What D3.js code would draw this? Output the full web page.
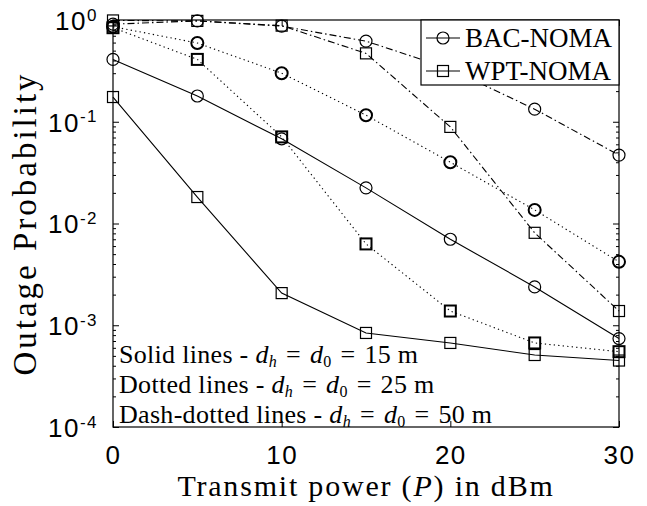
<!DOCTYPE html>
<html>
<head>
<meta charset="utf-8">
<script src="https://cdn.jsdelivr.net/npm/d3@7"></script>
<style>
  body { margin: 0; background: #fff; }
  .tick text { font-family: "Liberation Sans", Arial, sans-serif; }
  .serif { font-family: "Liberation Serif", "Times New Roman", serif; }
</style>
</head>
<body>
<script>
//transmit power values (dBm)
var power = [0, 5, 10, 15, 20, 25, 30];

//outage probability
var bacSolid  = [0.41, 0.179, 0.068, 0.0224, 0.0070, 0.00238, 0.00074];
var wptSolid  = [0.175, 0.0182, 0.00207, 0.00084, 0.00067, 0.00051, 0.00045];
var bacDotted = [0.86, 0.594, 0.30, 0.116, 0.040, 0.0136, 0.0042];
var wptDotted = [0.84, 0.41, 0.071, 0.0063, 0.00138, 0.00067, 0.00055];
var bacDashDot = [0.91, 0.98, 0.87, 0.62, 0.33, 0.133, 0.047];
var wptDashDot = [0.99, 0.98, 0.88, 0.47, 0.089, 0.0081, 0.00138];

var xTicks = [0, 10, 20, 30];
var yDecades = [0, -1, -2, -3, -4];
var legendNames = ["BAC-NOMA", "WPT-NOMA"];
var notes = [
    ["Solid lines - ", "15 m"],
    ["Dotted lines - ", "25 m"],
    ["Dash-dotted lines - ", "50 m"]
];

var series = [
    {vals: bacSolid, marker: "circle", dash: null},
    {vals: wptSolid, marker: "square", dash: null},
    {vals: bacDotted, marker: "circle", dash: "1.3,3.2"},
    {vals: wptDotted, marker: "square", dash: "1.3,3.2"},
    {vals: bacDashDot, marker: "circle", dash: "7,3,1.5,3"},
    {vals: wptDashDot, marker: "square", dash: "7,3,1.5,3"}
];

window.onload = drawChart();

function drawChart(){

    var width = 647,
        height = 506,
        margin = {left: 113, top: 20, right: 28, bottom: 79},
        innerW = width - margin.left - margin.right,
        innerH = height - margin.top - margin.bottom;

    var svg = d3.select("body")
        .append("svg")
        .attr("width", width)
        .attr("height", height);

    var g = svg.append("g")
        .attr("transform", "translate(" + margin.left + "," + margin.top + ")");

    var x = d3.scaleLinear().domain([0, 30]).range([0, innerW]);
    var y = d3.scaleLog().domain([1e-4, 1]).range([innerH, 0]);

    //all log ticks, majors get labels
    var yTicks = [];
    yDecades.forEach(function(e){
        if (e > -4) {
            for (var m = 1; m < 10; m++) yTicks.push(m * Math.pow(10, e - 1));
        }
    });
    yTicks.push(1);
    var isMajor = function(v){ return Math.abs(Math.log10(v) - Math.round(Math.log10(v))) < 1e-9; };

    //left axis
    var yAxis = g.append("g")
        .call(d3.axisLeft(y).tickValues(yTicks).tickSizeOuter(0).tickFormat(""));
    yAxis.selectAll(".tick line")
        .attr("x2", function(d){ return isMajor(d) ? 6 : 3; });
    yAxis.select(".domain").remove();
    yAxis.selectAll(".tick").filter(isMajor).each(function(d){
        var e = Math.round(Math.log10(d));
        var t = d3.select(this).select("text")
            .attr("x", -15).attr("dy", "0.36em")
            .style("font-size", "26px").style("letter-spacing", "1.5px").attr("fill", "#000");
        t.append("tspan").text("10");
        t.append("tspan").attr("dy", "-0.55em").style("font-size", "17px").text(e);
    });

    //right axis (ticks only)
    var yAxisR = g.append("g")
        .attr("transform", "translate(" + innerW + ",0)")
        .call(d3.axisRight(y).tickValues(yTicks).tickFormat(""));
    yAxisR.selectAll(".tick line")
        .attr("x2", function(d){ return isMajor(d) ? -6 : -3; });
    yAxisR.select(".domain").remove();

    //bottom axis
    var xAxis = g.append("g")
        .attr("transform", "translate(0," + innerH + ")")
        .call(d3.axisBottom(x).tickValues(xTicks).tickFormat(d3.format("d")));
    xAxis.selectAll(".tick line").attr("y2", -6);
    xAxis.select(".domain").remove();
    xAxis.selectAll(".tick text")
        .attr("y", 19).attr("dy", "0.71em")
        .style("font-size", "26px").style("letter-spacing", "1.5px").attr("fill", "#000");

    //top axis ticks
    var xAxisT = g.append("g")
        .call(d3.axisTop(x).tickValues(xTicks).tickFormat(""));
    xAxisT.selectAll(".tick line").attr("y2", 6);
    xAxisT.select(".domain").remove();

    //frame
    g.append("rect")
        .attr("width", innerW).attr("height", innerH)
        .attr("fill", "none").attr("stroke", "#000").attr("stroke-width", 1.2);

    //lines and markers
    var line = d3.line()
        .x(function(d, i){ return x(power[i]); })
        .y(function(d){ return y(d); });

    series.forEach(function(s){
        g.append("path")
            .datum(s.vals)
            .attr("d", line)
            .attr("fill", "none")
            .attr("stroke", "#000")
            .attr("stroke-width", 1.1)
            .attr("stroke-dasharray", s.dash);

        var sw = s.dash === "1.3,3.2" ? 2 : 1.2;
        if (s.marker === "circle") {
            g.selectAll(null).data(s.vals).enter().append("circle")
                .attr("cx", function(d, i){ return x(power[i]); })
                .attr("cy", function(d){ return y(d); })
                .attr("r", 6)
                .attr("fill", "none").attr("stroke", "#000").attr("stroke-width", sw);
        } else {
            g.selectAll(null).data(s.vals).enter().append("rect")
                .attr("x", function(d, i){ return x(power[i]) - 5.5; })
                .attr("y", function(d){ return y(d) - 5.5; })
                .attr("width", 11).attr("height", 11)
                .attr("fill", "none").attr("stroke", "#000").attr("stroke-width", sw);
        }
    });

    //legend
    var lg = g.append("g").attr("transform", "translate(" + (innerW - 198) + ",0)");
    lg.append("rect")
        .attr("width", 198).attr("height", 65)
        .attr("fill", "#fff").attr("stroke", "#000").attr("stroke-width", 1.2);
    legendNames.forEach(function(name, i){
        var cy = 18 + i * 33;
        lg.append("line")
            .attr("x1", 5).attr("x2", 39).attr("y1", cy).attr("y2", cy)
            .attr("stroke", "#000").attr("stroke-width", 1.1);
        if (i === 0) {
            lg.append("circle").attr("cx", 22).attr("cy", cy).attr("r", 6)
                .attr("fill", "none").attr("stroke", "#000").attr("stroke-width", 1.2);
        } else {
            lg.append("rect").attr("x", 16.5).attr("y", cy - 5.5).attr("width", 11).attr("height", 11)
                .attr("fill", "none").attr("stroke", "#000").attr("stroke-width", 1.2);
        }
        lg.append("text")
            .attr("class", "serif")
            .attr("x", 44).attr("y", cy).attr("dy", "0.35em")
            .style("font-size", "27px")
            .text(name);
    });

    //annotation lines
    var eq = "\u2004=\u2004";
    notes.forEach(function(n, i){
        var t = g.append("text")
            .attr("class", "serif")
            .attr("x", 6).attr("y", 343 + i * 30)
            .style("font-size", "26px")
            .style("letter-spacing", "0.3px");
        t.append("tspan").text(n[0]);
        t.append("tspan").style("font-style", "italic").text("d");
        t.append("tspan").attr("dy", 4).style("font-size", "16px").style("font-style", "italic").text("h");
        t.append("tspan").attr("dy", -4).text(eq);
        t.append("tspan").style("font-style", "italic").text("d");
        t.append("tspan").attr("dy", 4).style("font-size", "16px").text("0");
        t.append("tspan").attr("dy", -4).text(eq + n[1]);
    });

    //axis titles
    var xt = svg.append("text")
        .attr("class", "serif")
        .attr("x", margin.left + innerW / 2).attr("y", 496)
        .attr("text-anchor", "middle")
        .style("font-size", "30px")
        .style("letter-spacing", "1.8px");
    xt.append("tspan").text("Transmit power (");
    xt.append("tspan").style("font-style", "italic").text("P");
    xt.append("tspan").text(") in dBm");

    svg.append("text")
        .attr("class", "serif")
        .attr("transform", "translate(36," + (margin.top + innerH / 2) + ") rotate(-90)")
        .attr("text-anchor", "middle")
        .style("font-size", "33px")
        .style("letter-spacing", "3px")
        .text("Outage Probability");
};
</script>
</body>
</html>
